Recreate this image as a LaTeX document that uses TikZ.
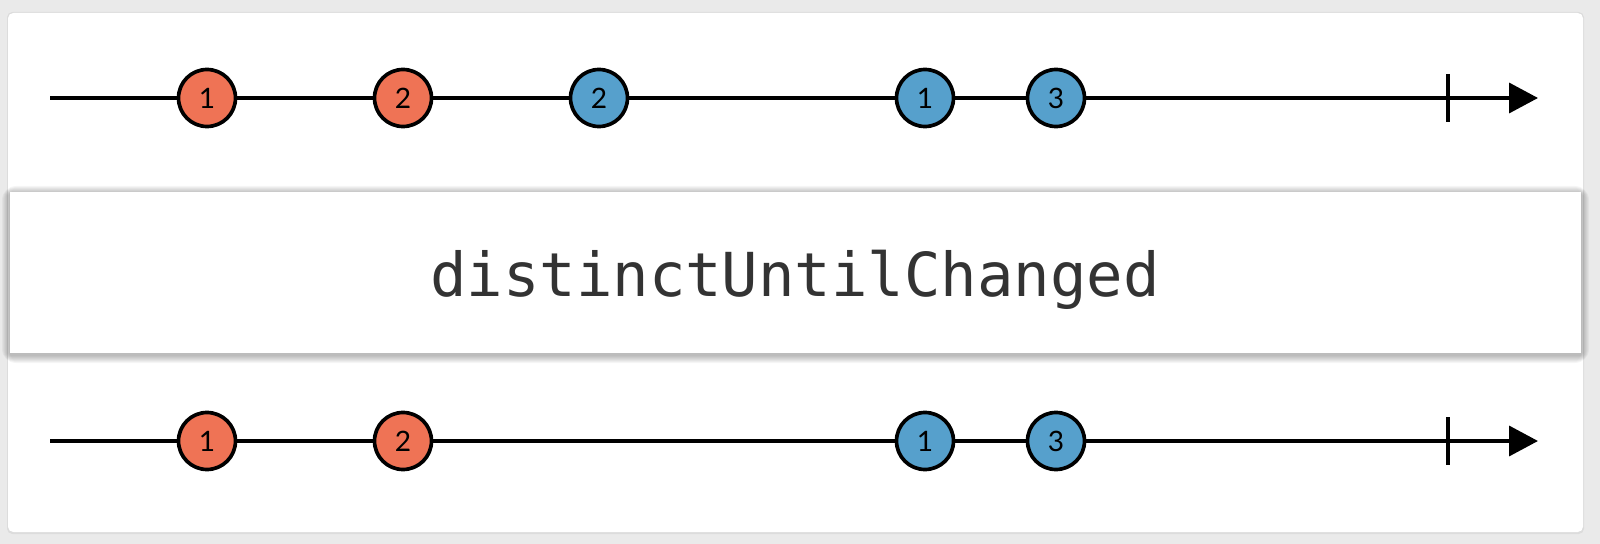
\documentclass[tikz,border=0pt]{standalone}
\usepackage{fontspec,xcolor,tikz}
\setmainfont{Lato}
\newfontfamily\codefont{DejaVu Sans Mono}
\usetikzlibrary{arrows.meta}
\definecolor{marbleorange}{RGB}{239,115,85}
\definecolor{marbleblue}{RGB}{86,160,204}
\definecolor{pagegray}{RGB}{234,234,234}
\definecolor{opgray}{RGB}{51,51,51}

\begin{document}
\begin{tikzpicture}[x=0.02cm,y=-0.02cm,
  marble/.style={circle,draw,line width=2.1pt,minimum size=1.14cm,inner sep=0pt,font=\fontsize{16}{16}\selectfont},
  axis/.style={line width=2.1pt,-{Triangle[length=0.58cm,width=0.6cm]}},
  tickmark/.style={line width=2.1pt}]
\fill[pagegray] (0,0) rectangle (1600,544);
\useasboundingbox (0,0) rectangle (1600,544);
\fill[black,opacity=0.06,rounded corners=3pt] (7,12) rectangle (1584,534);
\fill[white,rounded corners=3pt] (8,13) rectangle (1583,532);
% source stream
\coordinate (inStart) at (50,98); \coordinate (inEnd) at (1538,98);
\draw[axis] (inStart) -- (inEnd); \draw[tickmark] (1448,74) -- (1448,122);
\node[marble,fill=marbleorange] (in1) at (207,98) {1};
\node[marble,fill=marbleorange] (in2) at (403,98) {2};
\node[marble,fill=marbleblue] (in3) at (599,98) {2};
\node[marble,fill=marbleblue] (in4) at (925,98) {1};
\node[marble,fill=marbleblue] (in5) at (1056,98) {3};
% operator, soft shadow
\foreach \d in {1,...,8}
  \fill[black,opacity=0.035,rounded corners=\d] (10-\d,192-\d+2) rectangle (1581+\d,353+\d+2);
\fill[white] (10,192) rectangle (1581,353);
\node[anchor=base,inner sep=0pt,text=opgray,font=\codefont\fontsize{34.5}{34.5}\selectfont] (op) at (795,296) {distinctUntilChanged};
% result stream
\coordinate (outStart) at (50,441); \coordinate (outEnd) at (1538,441);
\draw[axis] (outStart) -- (outEnd); \draw[tickmark] (1448,417) -- (1448,465);
\node[marble,fill=marbleorange] (out1) at (207,441) {1};
\node[marble,fill=marbleorange] (out2) at (403,441) {2};
\node[marble,fill=marbleblue] (out3) at (925,441) {1};
\node[marble,fill=marbleblue] (out4) at (1056,441) {3};
\end{tikzpicture}
\end{document}
